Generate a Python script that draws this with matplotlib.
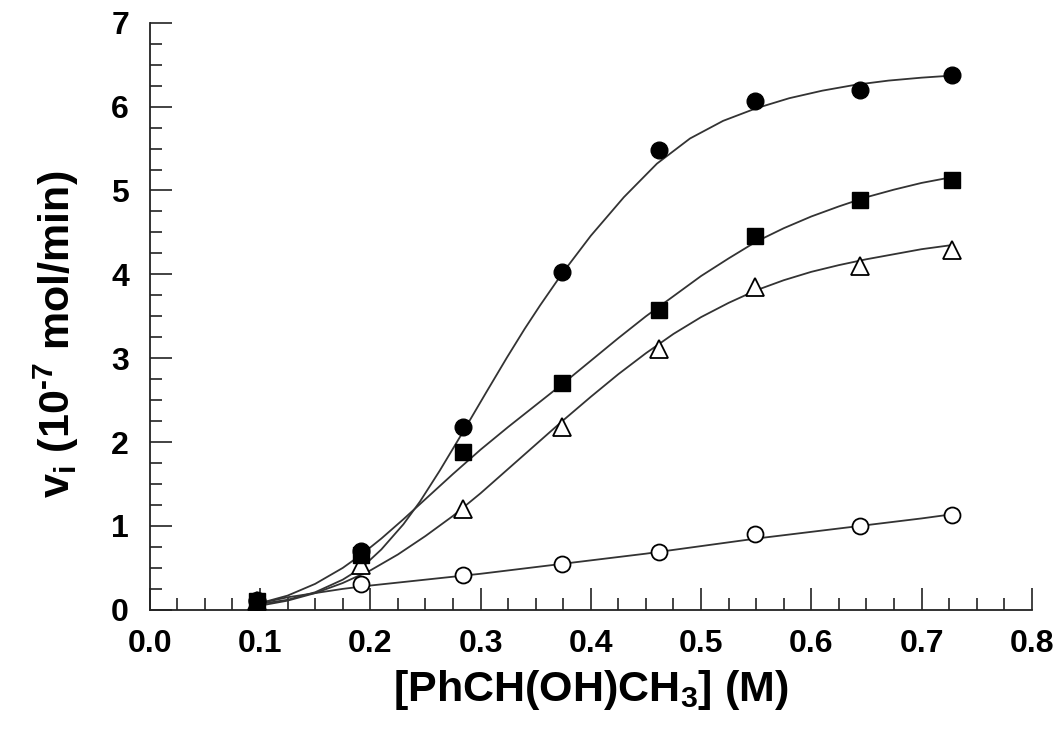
import matplotlib
matplotlib.use("Agg")
import matplotlib.pyplot as plt
from matplotlib.ticker import MultipleLocator, FormatStrFormatter

plt.rcParams['font.family'] = ['Liberation Sans', 'DejaVu Sans']
plt.rcParams['font.weight'] = 'bold'
plt.rcParams['mathtext.fontset'] = 'custom'
plt.rcParams['mathtext.rm'] = 'Liberation Sans:bold'
plt.rcParams['mathtext.it'] = 'Liberation Sans:bold'
plt.rcParams['mathtext.bf'] = 'Liberation Sans:bold'

# measured points
conc = [0.097, 0.192, 0.284, 0.374, 0.462, 0.549, 0.644, 0.728]
v_circle_filled = [0.10, 0.70, 2.18, 4.03, 5.48, 6.07, 6.20, 6.38]
v_square = [0.10, 0.65, 1.88, 2.71, 3.57, 4.46, 4.89, 5.12]
v_triangle = [0.10, 0.53, 1.20, 2.18, 3.11, 3.85, 4.10, 4.29]
v_circle_open = [0.12, 0.31, 0.42, 0.55, 0.69, 0.91, 1.00, 1.13]

# fitted curves, values
fit_x_a = [0.10, 0.125, 0.15, 0.175, 0.192, 0.21, 0.23, 0.245, 0.263, 0.284, 0.305, 0.324,
           0.34, 0.354, 0.374, 0.40, 0.43, 0.46, 0.49, 0.52, 0.55, 0.58, 0.61,
           0.64, 0.67, 0.70, 0.728]
fit_y_a = [0.07, 0.12, 0.21, 0.36, 0.50, 0.72, 1.02, 1.29, 1.66, 2.12, 2.59, 3.01,
           3.35, 3.63, 4.01, 4.46, 4.92, 5.32, 5.62, 5.83, 5.98, 6.10, 6.19,
           6.26, 6.31, 6.345, 6.37]
fit_x_b = [0.10, 0.125, 0.15, 0.175, 0.192, 0.21, 0.23, 0.25, 0.275, 0.30, 0.325,
           0.35, 0.375, 0.40, 0.425, 0.45, 0.475, 0.50, 0.525, 0.55, 0.575, 0.60,
           0.625, 0.65, 0.675, 0.70, 0.728]
fit_y_b = [0.08, 0.17, 0.31, 0.50, 0.66, 0.85, 1.08, 1.32, 1.62, 1.91, 2.18,
           2.44, 2.70, 2.97, 3.24, 3.50, 3.74, 3.98, 4.19, 4.39, 4.55, 4.69,
           4.81, 4.92, 5.01, 5.09, 5.16]
fit_x_c = [0.10, 0.125, 0.15, 0.175, 0.20, 0.225, 0.25, 0.275, 0.30, 0.325, 0.35,
           0.375, 0.40, 0.425, 0.45, 0.475, 0.50, 0.525, 0.55, 0.575, 0.60, 0.625,
           0.65, 0.675, 0.70, 0.728]
fit_y_c = [0.05, 0.11, 0.20, 0.32, 0.47, 0.66, 0.88, 1.12, 1.39, 1.68, 1.97,
           2.26, 2.54, 2.81, 3.06, 3.29, 3.49, 3.66, 3.81, 3.93, 4.03, 4.11,
           4.18, 4.24, 4.30, 4.35]
fit_x_d = [0.10, 0.125, 0.15, 0.175, 0.20, 0.25, 0.30, 0.35, 0.40, 0.45, 0.50,
           0.55, 0.60, 0.65, 0.70, 0.728]
fit_y_d = [0.08, 0.15, 0.20, 0.25, 0.29, 0.36, 0.43, 0.51, 0.59, 0.67, 0.76,
           0.85, 0.93, 1.01, 1.09, 1.14]

fig = plt.figure(figsize=(10.55, 7.33), dpi=100)
ax = fig.add_axes([0.142, 0.168, 0.836, 0.801])

lc = '#333333'
for fx, fy in [(fit_x_a, fit_y_a), (fit_x_b, fit_y_b), (fit_x_c, fit_y_c), (fit_x_d, fit_y_d)]:
    ax.plot(fx, fy, color=lc, lw=1.3, zorder=2)

ax.plot(conc, v_circle_open, 'o', ms=11.5, mfc='white', mec='black', mew=1.3, zorder=3)
ax.plot(conc, v_triangle, '^', ms=12.5, mfc='white', mec='black', mew=1.3, zorder=3)
ax.plot(conc, v_square, 's', ms=11, mfc='black', mec='black', zorder=4)
ax.plot(conc, v_circle_filled, 'o', ms=12, mfc='black', mec='black', zorder=5)

ax.set_xlim(0, 0.8)
ax.set_ylim(0, 7)
ax.spines['top'].set_visible(False)
ax.spines['right'].set_visible(False)
for s in ['left', 'bottom']:
    ax.spines[s].set_linewidth(1.3)
    ax.spines[s].set_color('#222222')

ax.xaxis.set_major_locator(MultipleLocator(0.1))
ax.xaxis.set_minor_locator(MultipleLocator(0.025))
ax.yaxis.set_major_locator(MultipleLocator(1))
ax.yaxis.set_minor_locator(MultipleLocator(0.25))
ax.xaxis.set_major_formatter(FormatStrFormatter('%.1f'))
ax.tick_params(which='major', direction='in', length=16, width=1.2, color='#222222',
               labelsize=23, pad=14)
ax.tick_params(which='minor', direction='in', length=8.5, width=1.2, color='#222222')
ax.tick_params(axis='y', which='major', pad=15)

ax.set_xlabel(r'[PhCH(OH)CH$_3$] (M)', fontsize=31, fontweight='bold', labelpad=6)
ax.set_ylabel(r'v$_\mathrm{i}$ (10$^{\text{-7}}$ mol/min)', fontsize=31, fontweight='bold')
ax.yaxis.set_label_coords(-0.078, 0.47)

fig.savefig('out.png', dpi=100)
